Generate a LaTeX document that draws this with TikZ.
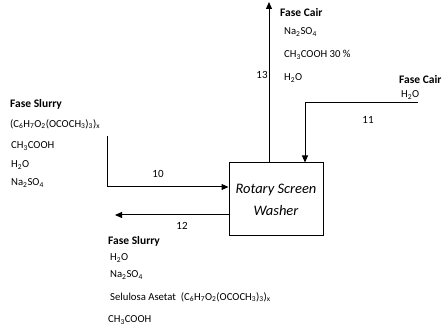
\documentclass[tikz,border=0pt]{standalone}
\usepackage{fontspec}
\setmainfont{Carlito}
\usetikzlibrary{arrows.meta}
\tikzset{
  flow/.style={line width=1pt, -{Triangle[length=7pt,width=6pt]}},
  head/.style={font=\fontsize{11.5}{13}\selectfont\bfseries, anchor=west, inner sep=0pt},
  comp/.style={font=\fontsize{10.7}{12}\selectfont, anchor=west, inner sep=0pt},
  num/.style={font=\fontsize{11}{12}\selectfont, inner sep=0pt},
  unitbox/.style={draw, line width=1pt, minimum width=94pt, minimum height=73pt, align=center, font=\fontsize{14.5}{22}\selectfont\itshape, inner sep=0pt}
}
\newcommand{\sub}[1]{\textsubscript{#1}}
\begin{document}
\begin{tikzpicture}[x=1pt,y=-1pt]
\useasboundingbox (0,0) rectangle (442,328);
\node[unitbox] (rsw) at (276,199.5) {Rotary Screen\\Washer};
% stream 10
\coordinate (s10a) at (107,136);
\coordinate (s10b) at (107,187);
\draw[flow] (s10a) -- (s10b) -- (s10b -| rsw.west);
\node[num] (n10) at (158,174) {10};
\node[head] (fs1) at (10,104) {Fase Slurry};
\node[comp] (c11) at (10,124) {(C\sub{6}H\sub{7}O\sub{2}(OCOCH\sub{3})\sub{3})\sub{x}};
\node[comp] (c12) at (11,146) {CH\sub{3}COOH};
\node[comp] (c13) at (11,165) {H\sub{2}O};
\node[comp] (c14) at (11,183) {Na\sub{2}SO\sub{4}};
% stream 13
\coordinate (s13) at (269,2);
\draw[flow] (rsw.north -| s13) -- (s13);
\node[num] (n13) at (262,75) {13};
\node[head] (fc1) at (280,13) {Fase Cair};
\node[comp] (c31) at (284,32) {Na\sub{2}SO\sub{4}};
\node[comp] (c32) at (284,55) {CH\sub{3}COOH 30 \%};
\node[comp] (c33) at (284,78) {H\sub{2}O};
% stream 11
\coordinate (s11a) at (418,103);
\coordinate (s11b) at (305,103);
\draw[flow] (s11a) -- (s11b) -- (s11b |- rsw.north);
\node[num] (n11) at (368,120) {11};
\node[head] (fc2) at (399,80) {Fase Cair};
\node[comp] (c21) at (401,95) {H\sub{2}O};
% stream 12
\coordinate (s12) at (115,215);
\draw[flow] (s12 -| rsw.west) -- (s12);
\node[num] (n12) at (182,226) {12};
\node[head] (fs2) at (108,241) {Fase Slurry};
\node[comp] (c41) at (110,258) {H\sub{2}O};
\node[comp] (c42) at (110,275) {Na\sub{2}SO\sub{4}};
\node[comp] (c43) at (110,297) {Selulosa Asetat\ \ (C\sub{6}H\sub{7}O\sub{2}(OCOCH\sub{3})\sub{3})\sub{x}};
\node[comp] (c44) at (108,320) {CH\sub{3}COOH};
\end{tikzpicture}
\end{document}
